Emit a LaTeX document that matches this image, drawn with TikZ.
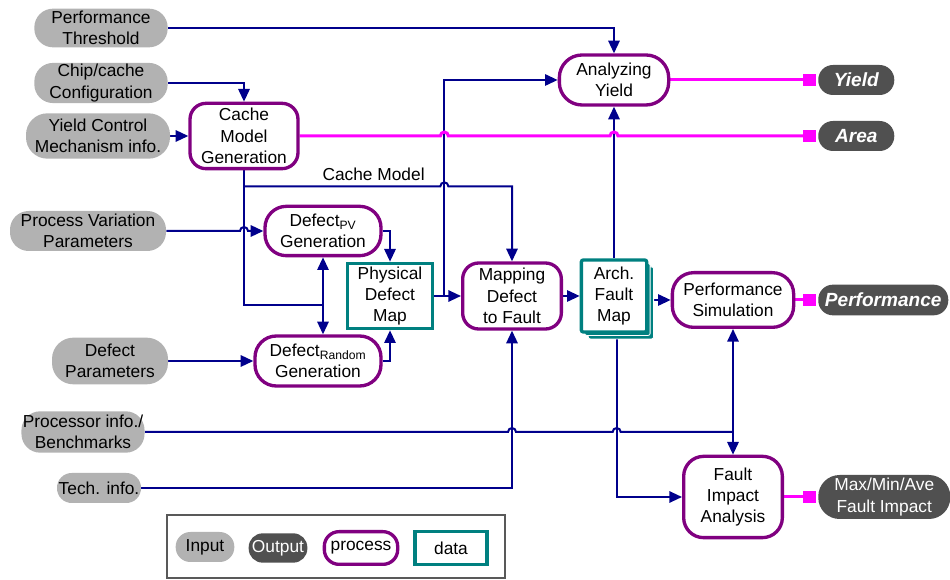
\documentclass[tikz,border=0pt]{standalone}
\usepackage{fontspec}
\setmainfont{Liberation Sans}
\usetikzlibrary{arrows.meta,positioning,calc,shadows,backgrounds}
\definecolor{inputgray}{RGB}{178,178,178}
\definecolor{outputgray}{RGB}{80,80,80}
\definecolor{procpurple}{RGB}{128,0,128}
\definecolor{datateal}{RGB}{0,128,128}
\definecolor{flownavy}{RGB}{0,0,140}
\definecolor{respink}{RGB}{255,0,255}
\newcommand{\hop}{arc[start angle=180,end angle=0,radius=3pt]}
\newcommand{\outfont}{\fontsize{14.3}{17}\selectfont\bfseries\itshape}
\tikzset{
  inbox/.style={rectangle, rounded corners=14pt, fill=inputgray, align=center, inner sep=1pt},
  outbox/.style={rectangle, rounded corners=11pt, fill=outputgray, text=white, align=center, inner sep=1pt},
  procbox/.style={rectangle, rounded corners=12pt, draw=procpurple, line width=2.5pt, fill=white, align=center, inner sep=1pt},
  databox/.style={rectangle, draw=datateal, line width=2.5pt, fill=white, align=center, inner sep=1pt},
  plainline/.style={draw=flownavy, line width=1.5pt},
  flowline/.style={plainline, -{Triangle[length=9.5pt,width=8.5pt]}},
  bothline/.style={plainline, {Triangle[length=9.5pt,width=8.5pt]}-{Triangle[length=9.5pt,width=8.5pt]}},
  resline/.style={draw=respink, line width=2.25pt},
  endsq/.style={rectangle, fill=respink, minimum size=9.5pt, inner sep=0pt},
}

\begin{document}
\begin{tikzpicture}[x=0.75pt, y=-0.75pt, font=\fontsize{13}{16}\selectfont]
  \useasboundingbox (0,0) rectangle (950,580);

  % inputs
  \node[inbox, minimum width=100pt, minimum height=29pt] (pth) at (101,28) {Performance\\Threshold};
  \node[inbox, minimum width=100pt, minimum height=29pt] (ccc) at (101,83) {Chip/cache\\Configuration};
  \node[inbox, minimum width=108pt, minimum height=34pt, rounded corners=16pt] (ycm) at (98,136) {Yield Control\\Mechanism info.};
  \node[inbox, minimum width=117pt, minimum height=30pt] (pvp) at (88,231) {Process Variation\\Parameters};
  \node[inbox, minimum width=87pt, minimum height=35pt, rounded corners=16pt] (dpa) at (110,361) {Defect\\Parameters};
  \node[inbox, minimum width=89pt, minimum height=31pt] (pib) at (83,432) {Processor info./\\Benchmarks};
  \node[inbox, minimum width=63pt, minimum height=22.5pt, rounded corners=11pt] (tec) at (99,488) {Tech. info.};

  % processes
  \node[procbox, minimum width=81pt, minimum height=49pt] (cmg) at (244,136) {Cache\\Model\\Generation};
  \node[procbox, minimum width=82pt, minimum height=37.5pt, rounded corners=17pt] (ay) at (614,80) {Analyzing\\Yield};
  \node[procbox, minimum width=87pt, minimum height=37pt, rounded corners=16pt] (dpv) at (323,231) {Defect\textsubscript{PV}\\Generation};
  \node[procbox, minimum width=94.5pt, minimum height=37.5pt, rounded corners=16pt] (drd) at (318,361) {Defect\textsubscript{Random}\\Generation};
  \node[procbox, minimum width=74pt, minimum height=49.5pt] (mdf) at (512,296) {Mapping\\Defect\\to Fault};
  \node[procbox, minimum width=91pt, minimum height=41pt, rounded corners=16pt] (psim) at (733,300) {Performance\\Simulation};
  \node[procbox, minimum width=74pt, minimum height=61pt, rounded corners=15pt] (fia) at (733,497) {Fault\\Impact\\Analysis};

  % data
  \node[databox, minimum width=64pt, minimum height=49pt] (pdm) at (390,296) {Physical\\Defect\\Map};
  \node[databox, minimum width=49pt, minimum height=54pt, rounded corners=1.5pt,
        double copy shadow={shadow xshift=2.6pt, shadow yshift=-2.6pt, fill=datateal, draw=white, line width=0.6pt}] (afm) at (614,296) {Arch.\\Fault\\Map};

  % outputs
  \node[outbox, anchor=west, minimum width=57pt, minimum height=22.5pt] (oy) at (818,80) {\outfont Yield};
  \node[outbox, anchor=west, minimum width=57pt, minimum height=22.5pt] (oa) at (818,136) {\outfont Area};
  \node[outbox, anchor=west, minimum width=97.5pt, minimum height=23pt] (op) at (818,300) {\outfont Performance};
  \node[outbox, anchor=west, minimum width=99pt, minimum height=33pt, rounded corners=16pt] (omm) at (818,497) {Max/Min/Ave\\Fault Impact};
  \node[endsq, left=1.5pt of oy] (sqy) {};
  \node[endsq, left=1.5pt of oa] (sqa) {};
  \node[endsq, left=1.5pt of op] (sqp) {};
  \node[endsq, left=1.5pt of omm] (sqm) {};

  \coordinate (pj) at ($(pdm.east)+(10,0)$);
  \coordinate (ad) at ([xshift=2pt]afm.south);

  \begin{scope}[on background layer]
    \draw[flowline] (pth.east) -| (ay.north);
    \draw[flowline] (ccc.east) -| (cmg.north);
    \draw[flowline] (ycm.east) -- (cmg.west);
    \draw[plainline] (cmg.south) -- ++(0,16) coordinate (cm) |- (dpv.south |- 0,305);
    \draw[bothline] (dpv.south) -- (dpv.south |- drd.north);
    \draw[flowline] (cm) -- node[above, pos=0.66] {Cache Model} ($(cm -| pj)+(-4,0)$) \hop -- (cm -| mdf.north) -- (mdf.north);
    \draw[flowline] (pvp.east) -- ($(cm |- pvp.east)+(-4,0)$) \hop -- (dpv.west);
    \draw[flowline] (dpv.east) -| (pdm.north);
    \draw[flowline] (drd.east) -| (pdm.south);
    \draw[flowline] (dpa.east) -- (drd.west);
    \draw[flowline] (pdm.east) -- (mdf.west);
    \draw[flowline] (pj) |- (ay.west);
    \draw[flowline] (mdf.east) -- (afm.west);
    \draw[flowline] (afm.north) -- (ay.south);
    \draw[flowline] (afm.east |- psim.west) -- (psim.west);
    \draw[flowline] (ad) |- (fia.west);
    \draw[flowline] (tec.east) -| (mdf.south);
    \draw[plainline] (pib.east) -- ($(pib.east -| mdf.south)+(-4,0)$) \hop -- ($(pib.east -| ad)+(-4,0)$) \hop -- (pib.east -| psim.south);
    \draw[bothline] (psim.south) -- (fia.north);

    \draw[resline] (ay.east) -- (sqy);
    \draw[resline] (cmg.east) -- ($(cmg.east -| pj)+(-4,0)$) \hop -- ($(cmg.east -| ay.south)+(-4,0)$) \hop -- (sqa);
    \draw[resline] (psim.east) -- (sqp);
    \draw[resline] (fia.east) -- (sqm);
  \end{scope}

  % legend
  \draw[black!65, line width=0.8pt] (167,515) rectangle (505,578);
  \node[inbox, minimum width=44pt, minimum height=22.5pt, rounded corners=11pt] (li) at (205,547) {Input};
  \node[outbox, minimum width=44pt, minimum height=22pt, rounded corners=10.5pt] (lo) at (278,548) {Output};
  \node[procbox, minimum width=55pt, minimum height=24.5pt, rounded corners=11pt] (lp) at (361,548) {process};
  \node[databox, minimum width=54pt, minimum height=24.5pt] (ld) at (451,548) {data};
\end{tikzpicture}
\end{document}
